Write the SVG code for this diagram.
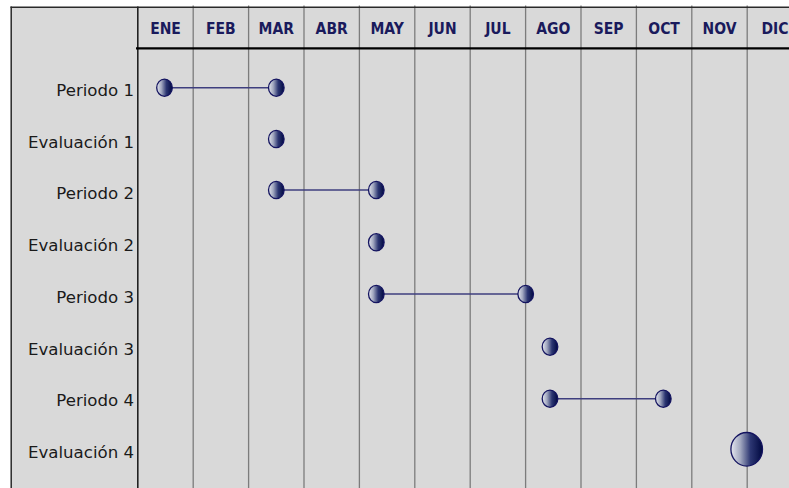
<svg xmlns="http://www.w3.org/2000/svg" width="789" height="488" viewBox="0 0 789 488">
<style>
.hdr{font-family:"DejaVu Sans Condensed","DejaVu Sans",sans-serif;font-weight:bold;font-size:15.5px;fill:#1a1a5c;text-anchor:middle}
.lbl{font-family:"DejaVu Sans",sans-serif;font-size:16.6px;fill:#1a1a1a;text-anchor:end}
.grid{stroke:#7c7c7c;stroke-width:1.3}
.bar{stroke:#3e3e7e;stroke-width:1.6}
.dot{fill:url(#g);stroke:#141460;stroke-width:1.3}
</style>
<defs>
<linearGradient id="g" x1="0" y1="0" x2="1" y2="0">
<stop offset="0" stop-color="#e6e8ef"/>
<stop offset="0.3" stop-color="#a2a8c0"/>
<stop offset="0.62" stop-color="#2c3672"/>
<stop offset="1" stop-color="#000840"/>
</linearGradient>
</defs>
<rect x="0" y="0" width="789" height="488" fill="#ffffff"/>
<rect x="11" y="7" width="778" height="481" fill="#d9d9d9"/>
<g id="grid">
<line class="grid" x1="193.2" y1="5.5" x2="193.2" y2="488"/>
<line class="grid" x1="248.6" y1="5.5" x2="248.6" y2="488"/>
<line class="grid" x1="304" y1="5.5" x2="304" y2="488"/>
<line class="grid" x1="359.4" y1="5.5" x2="359.4" y2="488"/>
<line class="grid" x1="414.8" y1="5.5" x2="414.8" y2="488"/>
<line class="grid" x1="470.2" y1="5.5" x2="470.2" y2="488"/>
<line class="grid" x1="525.6" y1="5.5" x2="525.6" y2="488"/>
<line class="grid" x1="581" y1="5.5" x2="581" y2="488"/>
<line class="grid" x1="636.4" y1="5.5" x2="636.4" y2="488"/>
<line class="grid" x1="691.8" y1="5.5" x2="691.8" y2="488"/>
<line class="grid" x1="747.2" y1="5.5" x2="747.2" y2="488"/>
<line x1="10.5" y1="7.2" x2="789" y2="7.2" stroke="#2a2a2a" stroke-width="1.5"/>
<line x1="11.2" y1="6.5" x2="11.2" y2="488" stroke="#2a2a2a" stroke-width="1.5"/>
<line x1="137.8" y1="6.5" x2="137.8" y2="488" stroke="#222222" stroke-width="1.6"/>
<line x1="136" y1="48.3" x2="789" y2="48.3" stroke="#000000" stroke-width="2.2"/>
</g>
<g id="header">
<text class="hdr" x="165.5" y="33.5">ENE</text>
<text class="hdr" x="220.9" y="33.5">FEB</text>
<text class="hdr" x="276.3" y="33.5">MAR</text>
<text class="hdr" x="331.7" y="33.5">ABR</text>
<text class="hdr" x="387.1" y="33.5">MAY</text>
<text class="hdr" x="442.5" y="33.5">JUN</text>
<text class="hdr" x="497.9" y="33.5">JUL</text>
<text class="hdr" x="553.3" y="33.5">AGO</text>
<text class="hdr" x="608.7" y="33.5">SEP</text>
<text class="hdr" x="664.1" y="33.5">OCT</text>
<text class="hdr" x="719.5" y="33.5">NOV</text>
<text class="hdr" x="774.9" y="33.5">DIC</text>
</g>
<g id="labels">
<text class="lbl" x="134" y="96">Periodo 1</text>
<text class="lbl" x="134" y="147.7">Evaluación 1</text>
<text class="lbl" x="134" y="199.4">Periodo 2</text>
<text class="lbl" x="134" y="251.1">Evaluación 2</text>
<text class="lbl" x="134" y="302.8">Periodo 3</text>
<text class="lbl" x="134" y="354.5">Evaluación 3</text>
<text class="lbl" x="134" y="406.2">Periodo 4</text>
<text class="lbl" x="134" y="457.9">Evaluación 4</text>
</g>
<g id="connectors">
<line class="bar" x1="164.5" y1="87.7" x2="276.3" y2="87.7"/>
<line class="bar" x1="276.3" y1="190" x2="376.3" y2="190"/>
<line class="bar" x1="376.3" y1="294" x2="525.7" y2="294"/>
<line class="bar" x1="550" y1="398.7" x2="663.3" y2="398.7"/>
</g>
<g id="periodo1">
<ellipse class="dot" cx="164.5" cy="87.7" rx="7.8" ry="8.6"/>
<ellipse class="dot" cx="276.3" cy="87.7" rx="7.8" ry="8.6"/>
</g>
<g id="evaluacion1">
<ellipse class="dot" cx="276.3" cy="139" rx="7.8" ry="8.6"/>
</g>
<g id="periodo2">
<ellipse class="dot" cx="276.3" cy="190" rx="7.8" ry="8.6"/>
<ellipse class="dot" cx="376.3" cy="190" rx="7.8" ry="8.6"/>
</g>
<g id="evaluacion2">
<ellipse class="dot" cx="376.3" cy="242.3" rx="7.8" ry="8.6"/>
</g>
<g id="periodo3">
<ellipse class="dot" cx="376.3" cy="294" rx="7.8" ry="8.6"/>
<ellipse class="dot" cx="525.7" cy="294" rx="7.8" ry="8.6"/>
</g>
<g id="evaluacion3">
<ellipse class="dot" cx="550" cy="346.7" rx="7.8" ry="8.6"/>
</g>
<g id="periodo4">
<ellipse class="dot" cx="550" cy="398.7" rx="7.8" ry="8.6"/>
<ellipse class="dot" cx="663.3" cy="398.7" rx="7.8" ry="8.6"/>
</g>
<g id="evaluacion4">
<ellipse class="dot" cx="746.7" cy="449.3" rx="15.8" ry="16.8"/>
</g>
</svg>
